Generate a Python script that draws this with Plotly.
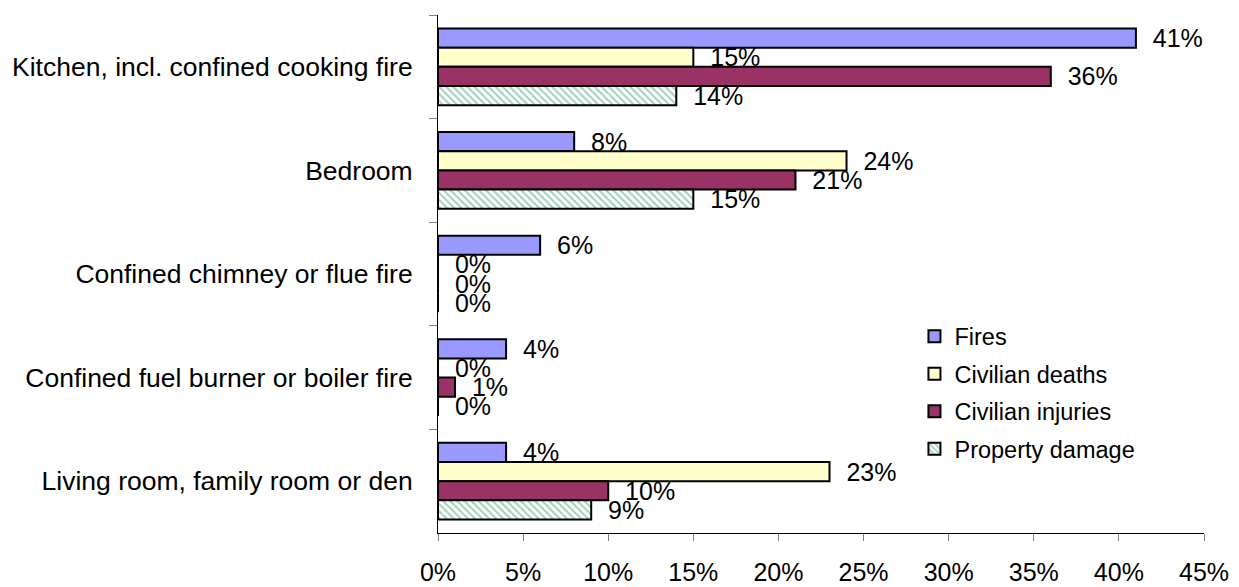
import plotly.graph_objects as go

categories = [
    "Kitchen, incl. confined cooking fire",
    "Bedroom",
    "Confined chimney or flue fire",
    "Confined fuel burner or boiler fire",
    "Living room, family room or den",
]
fires = [0.41, 0.08, 0.06, 0.04, 0.04]
civilian_deaths = [0.15, 0.24, 0.00, 0.00, 0.23]
civilian_injuries = [0.36, 0.21, 0.00, 0.01, 0.10]
property_damage = [0.14, 0.15, 0.00, 0.00, 0.09]
x_ticks = [0, 0.05, 0.10, 0.15, 0.20, 0.25, 0.30, 0.35, 0.40, 0.45]
x_tick_labels = ["0%", "5%", "10%", "15%", "20%", "25%", "30%", "35%", "40%", "45%"]

FONT = "Liberation Sans, Arial, sans-serif"

series = [
    ("Fires", fires, dict(color="#9999FF")),
    ("Civilian deaths", civilian_deaths, dict(color="#FFFFCC")),
    ("Civilian injuries", civilian_injuries, dict(color="#993366")),
    ("Property damage", property_damage,
     dict(color="#FFFFFF", pattern=dict(shape="\\", fgcolor="#3FA070", bgcolor="#FFFFFF", size=5, solidity=0.4))),
]

fig = go.Figure()
for i, (name, vals, mk) in enumerate(series):
    marker = dict(mk)
    marker["line"] = dict(color="#000000", width=2)
    fig.add_trace(go.Bar(
        name=name, y=categories, x=vals, orientation="h",
        marker=marker,
        legendgroup=f"g{i}",
        text=[f"{round(v*100)}%" for v in vals],
        texttemplate="  %{text}",
        textposition="outside",
        constraintext="none",
        cliponaxis=False,
        textfont=dict(family=FONT, size=25, color="#000000"),
    ))

# page body has an 8px margin, so the figure is sized to the visible area
fig.update_layout(
    barmode="group",
    bargap=0.26,
    bargroupgap=0,
    width=1231, height=579,
    margin=dict(l=430, r=35, t=7, b=54),
    plot_bgcolor="white", paper_bgcolor="white",
    font=dict(family=FONT, size=25, color="#000000"),
    legend=dict(
        x=0.622, y=0.422, xanchor="left", yanchor="top",
        font=dict(family=FONT, size=23.5),
        tracegroupgap=4, itemsizing="constant",
        bgcolor="rgba(0,0,0,0)",
    ),
    showlegend=True,
)
fig.update_xaxes(
    range=[0, 0.45], tickvals=x_ticks, ticktext=x_tick_labels,
    showgrid=False, zeroline=False, automargin=False,
    showline=True, linecolor="#000000", linewidth=1,
    ticks="outside", ticklen=7, tickcolor="#808080",
    ticklabelstandoff=10,
    tickfont=dict(family=FONT, size=25),
)
fig.update_yaxes(
    autorange="reversed", showgrid=False, automargin=False,
    showline=True, linecolor="#000000", linewidth=1,
    ticks="outside", ticklen=8, tickcolor="#808080", tickson="boundaries",
    ticklabelstandoff=19,
    tickfont=dict(family=FONT, size=26.5),
)

fig.write_html("out.html")
